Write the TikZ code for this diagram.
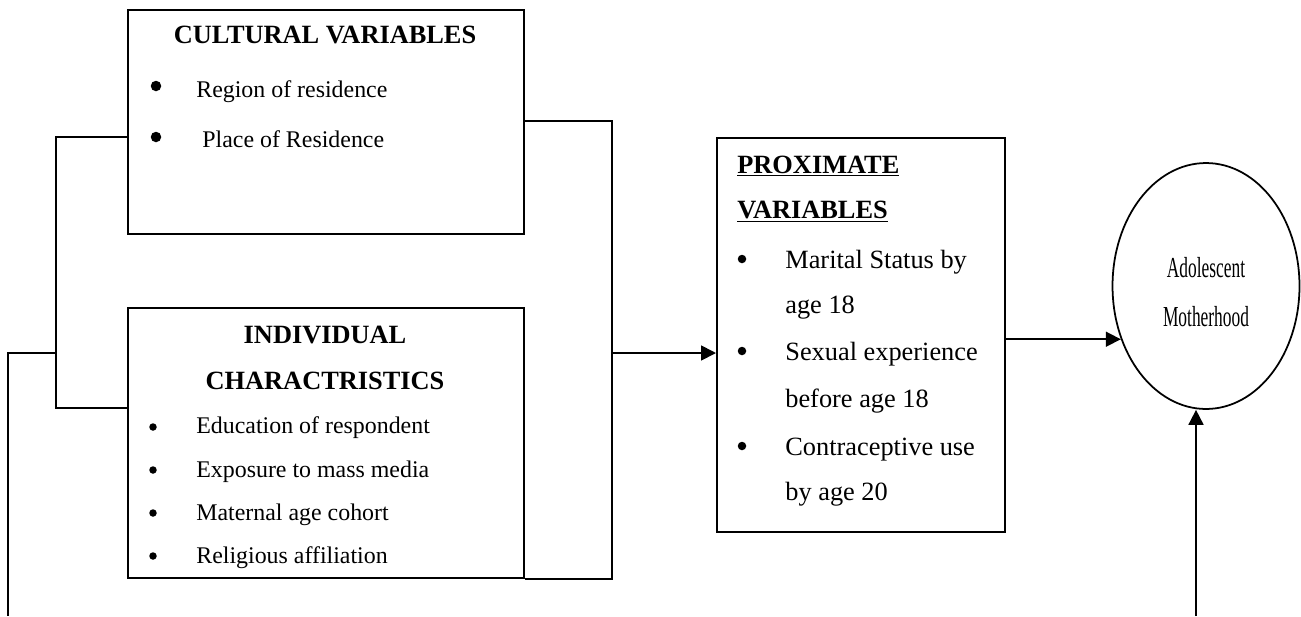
\documentclass[tikz,border=0pt]{standalone}
\usepackage{fontspec}
\setmainfont{Liberation Serif}
\newfontfamily\narrowfont[FakeStretch=0.6]{Liberation Serif}
\usetikzlibrary{arrows.meta,shapes.geometric}

\tikzset{
  box/.style={draw, line width=1pt, anchor=north west, inner sep=0pt},
  head/.style={font=\fontsize{15}{18}\selectfont\bfseries, anchor=base, inner sep=0pt},
  itemtext/.style={font=\fontsize{13.6}{16}\selectfont, anchor=base west, inner sep=0pt},
  proxtext/.style={font=\fontsize{15}{18}\selectfont, anchor=base west, inner sep=0pt},
  dot/.style={circle, fill, inner sep=0pt, minimum size=#1},
  link/.style={line width=1pt},
  arr/.style={line width=1pt, -{Triangle[length=8.5pt,width=8.5pt]}}
}

\begin{document}
\begin{tikzpicture}[x=0.02cm, y=-0.02cm]
  \useasboundingbox (0,0) rectangle (1301,616);

  % Cultural variables
  \node[box, minimum width=7.92cm, minimum height=4.48cm] (cult) at (127,9) {};
  \node[head] (culth) at (325,43) {CULTURAL VARIABLES};
  \node[dot=0.21cm] (cultb1) at (156,86) {};
  \node[itemtext] (cult1) at (196,97) {Region of residence};
  \node[dot=0.21cm] (cultb2) at (156,137) {};
  \node[itemtext] (cult2) at (202,147) {Place of Residence};

  % Individual characteristics
  \node[box, minimum width=7.92cm, minimum height=5.4cm] (indiv) at (127,307) {};
  \node[head] (indivh1) at (325,343) {INDIVIDUAL};
  \node[head] (indivh2) at (325,389) {CHARACTRISTICS};
  \node[dot=0.15cm] (indivb1) at (153,427) {};
  \node[itemtext] (indiv1) at (196,433) {Education of respondent};
  \node[dot=0.15cm] (indivb2) at (153,470) {};
  \node[itemtext] (indiv2) at (196,477) {Exposure to mass media};
  \node[dot=0.15cm] (indivb3) at (153,513) {};
  \node[itemtext] (indiv3) at (196,520) {Maternal age cohort};
  \node[dot=0.15cm] (indivb4) at (153,556) {};
  \node[itemtext] (indiv4) at (196,563) {Religious affiliation};

  % Proximate variables
  \node[box, minimum width=5.76cm, minimum height=7.88cm] (prox) at (716,137) {};
  \node[proxtext, font=\fontsize{15}{18}\selectfont\bfseries] (proxh1) at (737,173) {\underline{PROXIMATE}};
  \node[proxtext, font=\fontsize{15}{18}\selectfont\bfseries] (proxh2) at (737,218) {\underline{VARIABLES}};
  \node[dot=0.17cm] (proxb1) at (742,259) {};
  \node[proxtext] (prox1) at (785,268) {Marital Status by};
  \node[proxtext] (prox1b) at (785,313) {age 18};
  \node[dot=0.17cm] (proxb2) at (742,351) {};
  \node[proxtext] (prox2) at (785,360) {Sexual experience};
  \node[proxtext] (prox2b) at (785,407) {before age 18};
  \node[dot=0.17cm] (proxb3) at (742,446) {};
  \node[proxtext] (prox3) at (785,455) {Contraceptive use};
  \node[proxtext] (prox3b) at (785,500) {by age 20};

  % Outcome
  \node[draw, ellipse, line width=1pt, inner sep=0pt, minimum width=3.74cm, minimum height=4.92cm] (moth) at (1206,286) {};
  \node[font=\narrowfont\fontsize{16.5}{18}\selectfont, anchor=base, inner sep=0pt] (mothl1) at (1206,277) {Adolescent};
  \node[font=\narrowfont\fontsize{16.5}{18}\selectfont, anchor=base, inner sep=0pt] (mothl2) at (1206,326) {Motherhood};

  % Connectors
  \coordinate (lbus) at (56,353);
  \coordinate (rbus) at (612,353);
  \coordinate (lfoot) at (8,616);
  \coordinate (rfoot) at (1196,616);
  \draw[link] (cult.west |- 0,137) -| (lbus) |- (indiv.west |- 0,408);
  \draw[link] (cult.east |- 0,121) -| (rbus) |- (indiv.south east);
  \draw[arr] (rbus) -- (prox.west |- rbus);
  \draw[arr] (prox.east |- moth.212) -- (moth.212);
  \draw[link] (lbus) -| (lfoot);
  \draw[arr] (rfoot) -- (rfoot |- moth.south);

\end{tikzpicture}
\end{document}
